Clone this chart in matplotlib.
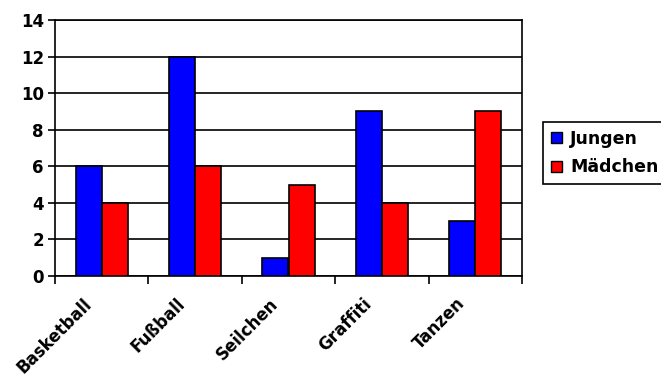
import numpy as np
import matplotlib.pyplot as plt
from matplotlib.patches import Patch
from matplotlib.transforms import ScaledTranslation

categories = ['Basketball', 'Fußball', 'Seilchen', 'Graffiti', 'Tanzen']
jungen = [6, 12, 1, 9, 3]
maedchen = [4, 6, 5, 4, 9]
yticks = [0, 2, 4, 6, 8, 10, 12, 14]

plt.rcParams['font.family'] = ['DejaVu Sans']
plt.rcParams['font.weight'] = 'bold'

fig = plt.figure(figsize=(6.61, 3.77), dpi=100)
ax = fig.add_axes([55 / 661, 1 - 276 / 377, (522 - 55) / 661, (276 - 20) / 377])

x = np.arange(len(categories))
w = 0.28
ax.bar(x - w / 2, jungen, w, color='#0000ff', edgecolor='black', linewidth=1.2, zorder=3, label='Jungen')
ax.bar(x + w / 2, maedchen, w, color='#ff0000', edgecolor='black', linewidth=1.2, zorder=3, label='Mädchen')

ax.set_xlim(-0.5, len(categories) - 0.5)
ax.set_ylim(0, 14)
ax.set_yticks(yticks)
ax.yaxis.grid(True, color='black', linewidth=1.2, zorder=0)
ax.set_axisbelow(True)

# ticks between categories, labels at centres
ax.set_xticks(np.arange(len(categories) + 1) - 0.5)
ax.set_xticklabels([])
ax.tick_params(axis='x', which='major', length=6, width=1.2, direction='out')
ax.set_xticks(x, minor=True)
ax.set_xticklabels(categories, minor=True, rotation=45, ha='right', va='center',
                   rotation_mode='anchor', fontsize=12, fontweight='bold')
ax.tick_params(axis='x', which='minor', length=0, pad=18)
shift = ScaledTranslation(-13 / 100, 0, fig.dpi_scale_trans)
for lab in ax.get_xticklabels(minor=True):
    lab.set_transform(lab.get_transform() + shift)
ax.tick_params(axis='y', length=5, width=1.2, labelsize=12, pad=3)
for lab in ax.get_yticklabels():
    lab.set_fontweight('bold')

for s in ax.spines.values():
    s.set_linewidth(1.2)

handles = [Patch(facecolor='#0000ff', edgecolor='black', linewidth=1),
           Patch(facecolor='#ff0000', edgecolor='black', linewidth=1)]
leg = fig.legend(handles, ['Jungen', 'Mädchen'], loc='upper left',
                 bbox_to_anchor=(543 / 661, 1 - 122 / 377), fancybox=False,
                 framealpha=1, edgecolor='black', handlelength=0.65, handleheight=0.6,
                 handletextpad=0.45, borderpad=0.45, borderaxespad=0, labelspacing=0.6,
                 prop={'weight': 'bold', 'size': 12.5})
leg.get_frame().set_linewidth(1.2)

fig.savefig('out.png', dpi=100)
